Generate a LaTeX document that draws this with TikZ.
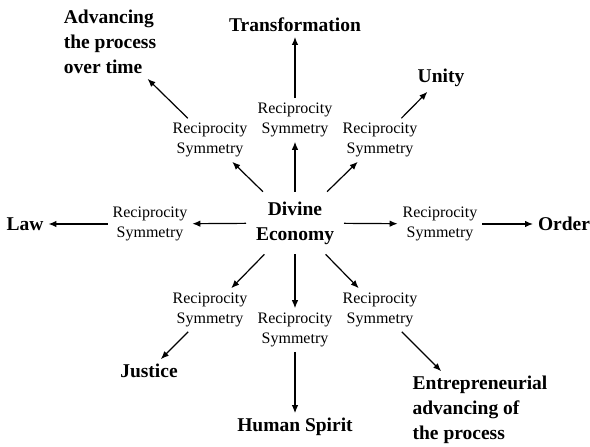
\documentclass[tikz,border=0pt]{standalone}
\usepackage{fontspec}
\setmainfont{Liberation Serif}
\usetikzlibrary{arrows.meta}
\begin{document}
\begin{tikzpicture}[x=1pt,y=-1pt,
    big/.style={font=\fontsize{19.5}{25}\selectfont\bfseries, inner sep=3pt, outer sep=2pt},
    recsym/.style={font=\fontsize{16}{19.5}\selectfont, align=center, inner sep=3pt, outer sep=2pt},
    arr/.style={-{Latex[length=8pt,width=6.5pt]}, line width=1.2pt}]
    \useasboundingbox (0,0) rectangle (590,447);
    % Centro
    \node[big, align=center, inner sep=8pt] (econ) at (295,223) {Divine\\Economy};
    % Etiquetas intermedias
    \node[recsym] (rsN)  at (295,120) {Reciprocity\\Symmetry};
    \node[recsym] (rsNE) at (380,140) {Reciprocity\\Symmetry};
    \node[recsym] (rsE)  at (440,224) {Reciprocity\\Symmetry};
    \node[recsym] (rsSE) at (380,310) {Reciprocity\\Symmetry};
    \node[recsym] (rsS)  at (295,330) {Reciprocity\\Symmetry};
    \node[recsym] (rsSW) at (210,310) {Reciprocity\\Symmetry};
    \node[recsym] (rsW)  at (150,224) {Reciprocity\\Symmetry};
    \node[recsym] (rsNW) at (210,140) {Reciprocity\\Symmetry};
    % Nodos exteriores
    \node[big] (trans)   at (295,25)  {Transformation};
    \node[big] (unity)   at (441,78)  {Unity};
    \node[big] (order)   at (564,224) {Order};
    \node[big, align=left] (entre) at (480,410) {Entrepreneurial\\advancing of\\the process};
    \node[big] (human)   at (295,427) {Human Spirit};
    \node[big] (justice) at (149,371) {Justice};
    \node[big] (law)     at (25,224)  {Law};
    \node[big, align=left] (adv) at (110,42) {Advancing\\the process\\over time};
    % Flechas hacia las etiquetas
    \draw[arr] (econ) -- (rsN);
    \draw[arr] (econ) -- (rsNE);
    \draw[arr] (econ) -- (rsE);
    \draw[arr] (econ) -- (rsSE);
    \draw[arr] (econ) -- (rsS);
    \draw[arr] (econ) -- (rsSW);
    \draw[arr] (econ) -- (rsW);
    \draw[arr] (econ) -- (rsNW);
    % Flechas hacia los nodos exteriores
    \draw[arr] (rsN)  -- (trans);
    \draw[arr] (rsNE) -- (unity);
    \draw[arr] (rsE)  -- (order);
    \draw[arr] (rsSE) -- (entre);
    \draw[arr] (rsS)  -- (human);
    \draw[arr] (rsSW) -- (justice);
    \draw[arr] (rsW)  -- (law);
    \draw[arr] (rsNW) -- (adv);
\end{tikzpicture}
\end{document}
